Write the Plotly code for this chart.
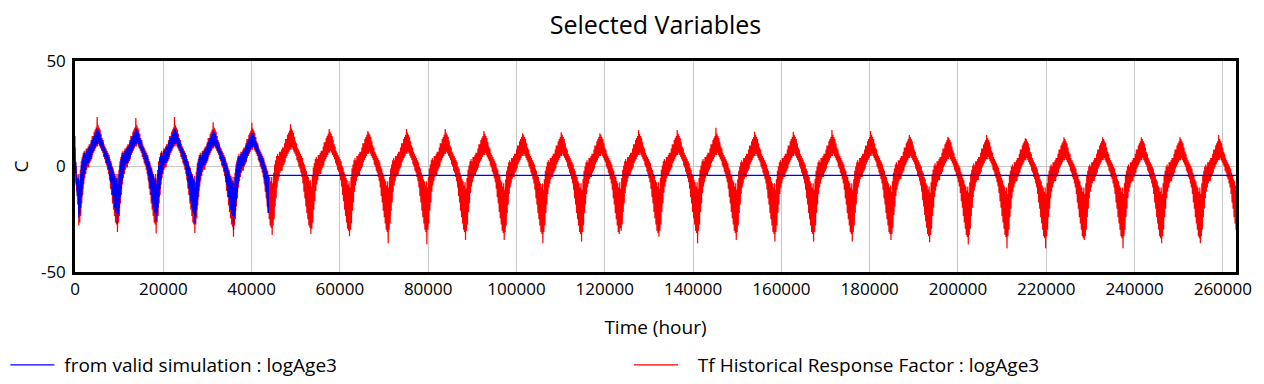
import plotly.graph_objects as go

# ---------------- data ----------------
YEAR_HOURS = 8760          # one seasonal cycle
TROUGH_PHASE = 750         # hours after year start where the winter cusp sits
N_COLS = 39                # profile samples per year
T_END = 262980             # end of the simulation (hours)

# typical yearly band (red series), starting at the winter cusp, degrees C
red_hi = [-5, -8, -3, 1, 3, 5, 6, 5, 7, 7, 8, 9, 9, 11, 13, 13, 15, 16, 17, 18,
          18, 17, 16, 14, 12, 11, 9, 8, 7, 6, 5, 4, 2, 1, -1, -2, -4, -5, -7]
red_lo = [-30, -28, -25, -19, -15, -10, -7, -5, -3, -2, -2, 0, 1, 2, 4, 5, 6, 7, 8, 8,
          9, 8, 7, 6, 5, 3, 2, 0, -1, -3, -5, -8, -12, -15, -19, -22, -25, -28, -29]

# typical yearly band (blue series, first five years only)
blue_hi = [-7, -10, -5, -1, 2, 4, 5, 4, 6, 6, 7, 8, 8, 10, 11, 12, 13, 14, 15, 16,
           16, 15, 14, 12, 11, 10, 8, 7, 6, 5, 4, 3, 1, 0, -2, -3, -5, -6, -8]
blue_lo = [-26, -24, -21, -16, -12, -8, -5, -3, -1, 0, 0, 1, 2, 3, 5, 6, 7, 8, 9, 9,
           10, 9, 8, 7, 6, 5, 3, 2, 0, -1, -3, -6, -9, -12, -15, -18, -21, -23, -24]

# level shift of the band for each of the 30 years
year_offset = [1.5, 1.5, 1.5, 0.5, 0, 0, -1.5, -2, -2, -2, -2.5, -3, -3, -3, -2.5,
               -2.5, -2.5, -3, -3, -3, -3, -4, -4.5, -4.5, -5, -5, -5, -5, -5, -5]

# yearly summer maxima and winter minima (red)
red_peak = [23.5, 23, 23.4, 21, 20.7, 20, 17.8, 16.8, 17.8, 17.8, 16.8, 15.7, 16.2, 15.7,
            17.3, 17.3, 18.4, 16.5, 16.5, 17.3, 16.8, 14.9, 14.1, 14.9, 13.4, 13.8, 13.8,
            13.8, 13.8, 14.9]
red_trough = [-28, -31, -31.7, -31.5, -33.3, -32.5, -32, -33, -36.4, -36.9, -34.8, -34.8,
              -36.4, -35.6, -29.3, -33.3, -36.4, -34.8, -35.6, -35.6, -35.6, -34.8, -35.9,
              -37, -38.8, -38.8, -34.8, -38.8, -36.4, -36.4]

# yearly maxima / minima (blue)
blue_peak = [18, 18, 18, 17, 16]
blue_trough = [-24, -27, -26, -27, -30]

# start of the run (before the first cusp)
red_lead_t = [0, 0, 100, 200, 300, 400, 500, 600]
red_lead_v = [14.5, -2, 3, -8, 0, -12, -6, -18]
blue_lead_t = [0, 100, 200, 300, 400, 500, 600]
blue_lead_v = [9, -3, 2, -9, -4, -14, -10]

red_end_v = -29
blue_stop_t = 43800
blue_stop_v = -22
blue_flat_v = -4.2

x_ticks = list(range(0, 260001, 20000))
y_ticks = [-50, 0, 50]


# ---------------- build the series ----------------
def build(hi, lo, peaks, troughs, years, t_stop, lead_t, lead_v):
    col = YEAR_HOURS / N_COLS
    ts, vs = list(lead_t), list(lead_v)
    for n in range(years):
        off = year_offset[n]
        for d in range(N_COLS):
            t0 = n * YEAR_HOURS + TROUGH_PHASE + d * col
            if t0 > t_stop:
                break
            h = peaks[n] if d == 19 else hi[d] + off
            l = troughs[n] if d == 0 else lo[d] + off
            ts += [t0, t0 + col / 2]
            vs += [h, l]
    return ts, vs


rt, rv = build(red_hi, red_lo, red_peak, red_trough, 30, T_END - 100, red_lead_t, red_lead_v)
rt.append(T_END)
rv.append(red_end_v)

bt, bv = build(blue_hi, blue_lo, blue_peak, blue_trough, 5, blue_stop_t - 150,
               blue_lead_t, blue_lead_v)
bt += [blue_stop_t, blue_stop_t, T_END]
bv += [blue_stop_v, blue_flat_v, blue_flat_v]

FONT = "Open Sans"
NB = "\u00a0"

fig = go.Figure()
fig.add_trace(go.Scatter(x=rt, y=rv, mode="lines", name=NB * 3 + "Tf Historical Response Factor : logAge3",
                         legend="legend2",
                         line=dict(color="#ff0000", width=1.2, simplify=False)))
fig.add_trace(go.Scatter(x=bt, y=bv, mode="lines", name=NB + "from valid simulation : logAge3",
                         legend="legend",
                         line=dict(color="#0000ff", width=1.2, simplify=False)))

leg_common = dict(orientation="h", xanchor="left", y=-0.4408, yanchor="middle",
                  itemwidth=44, font=dict(size=19, family=FONT), bgcolor="rgba(0,0,0,0)")

fig.update_layout(
    width=1264, height=384,
    margin=dict(l=67, r=36, t=53, b=120, autoexpand=False),
    paper_bgcolor="white", plot_bgcolor="white",
    font=dict(family=FONT, size=16, color="black"),
    title=dict(text="Selected Variables", x=0.5, xref="paper", xanchor="center",
               y=1 - 17 / 384, yanchor="middle", font=dict(size=25)),
    showlegend=True,
    legend=dict(x=-0.06, **leg_common),
    legend2=dict(x=0.4772, **leg_common),
)
fig.update_xaxes(range=[0, T_END], tickvals=x_ticks, ticktext=[str(v) for v in x_ticks],
                 showgrid=True, gridcolor="#c8c8c8", gridwidth=1, zeroline=False,
                 showline=True, mirror=True, linecolor="black", linewidth=2.5, ticks="",
                 automargin=False,
                 title=dict(text="Time (hour)", standoff=22), tickfont=dict(size=17))
fig.update_yaxes(range=[-50, 50], tickvals=y_ticks, ticktext=[str(v) for v in y_ticks],
                 showgrid=True, gridcolor="#c8c8c8", gridwidth=1, zeroline=False,
                 showline=True, mirror=True, linecolor="black", linewidth=2.5, ticks="",
                 automargin=False, ticklabelstandoff=3,
                 title=dict(text="C", standoff=18), tickfont=dict(size=17))

fig.write_html("out.html")
